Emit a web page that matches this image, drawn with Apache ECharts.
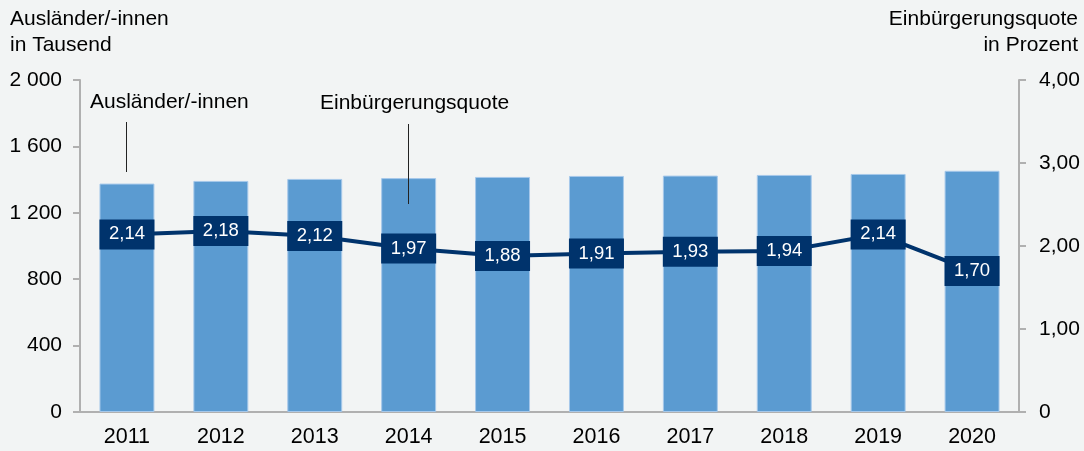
<!DOCTYPE html>
<html>
<head>
<meta charset="utf-8">
<script src="https://cdn.jsdelivr.net/npm/echarts@6/dist/echarts.min.js"></script>
<style>
html,body{margin:0;padding:0;background:#f2f4f4;}
#c{width:1084px;height:451px;}
</style>
</head>
<body>
<div id="c"></div>
<script>
const years = ['2011','2012','2013','2014','2015','2016','2017','2018','2019','2020'];
const auslaender = [1376, 1392, 1404, 1409, 1416, 1422, 1424, 1428, 1434, 1453];
const quote = [2.14, 2.18, 2.12, 1.97, 1.88, 1.91, 1.93, 1.94, 2.14, 1.70];
const leftTitle = ['Ausländer/-innen', 'in Tausend'];
const rightTitle = ['Einbürgerungsquote', 'in Prozent'];
const barAnnotation = 'Ausländer/-innen';
const lineAnnotation = 'Einbürgerungsquote';

const FONT = '"Liberation Sans", Arial, sans-serif';
const FS = 21;
const chart = echarts.init(document.getElementById('c'));
const fmtComma = v => v.toFixed(2).replace('.', ',');

chart.setOption({
  backgroundColor: '#f2f4f4',
  animation: false,
  textStyle: {fontFamily: FONT},
  grid: {left: 80, right: 65, top: 80, bottom: 39},
  xAxis: {
    type: 'category',
    data: years,
    axisLine: {lineStyle: {color: '#b0b0b0', width: 2}},
    axisTick: {show: false},
    axisLabel: {color: '#000', fontSize: 21.5, margin: 14, fontFamily: FONT}
  },
  yAxis: [{
    type: 'value', min: 0, max: 2000, interval: 400,
    axisLine: {show: true, lineStyle: {color: '#b0b0b0', width: 2}},
    axisTick: {show: true, length: 7, lineStyle: {color: '#b0b0b0', width: 2}},
    splitLine: {show: false},
    axisLabel: {color: '#000', fontSize: FS, margin: 18, fontFamily: FONT,
      formatter: v => String(v).replace(/\B(?=(\d{3})+(?!\d))/g, ' ')}
  }, {
    type: 'value', min: 0, max: 4, interval: 1, position: 'right',
    axisLine: {show: true, lineStyle: {color: '#b0b0b0', width: 2}},
    axisTick: {show: true, length: 7, lineStyle: {color: '#b0b0b0', width: 2}},
    splitLine: {show: false},
    axisLabel: {color: '#000', fontSize: FS, margin: 20, fontFamily: FONT,
      formatter: v => v === 0 ? '0' : fmtComma(v)}
  }],
  series: [{
    type: 'bar',
    data: auslaender,
    barWidth: '58.5%',
    itemStyle: {color: '#5b9bd1', borderColor: '#a6c8ea', borderWidth: 1},
    z: 2
  }, {
    type: 'line',
    yAxisIndex: 1,
    data: quote,
    symbol: 'circle',
    symbolSize: 1,
    showSymbol: true,
    itemStyle: {color: '#00336c'},
    lineStyle: {color: '#00336c', width: 4},
    z: 5,
    label: {
      show: true, position: 'inside',
      formatter: p => fmtComma(p.value),
      color: '#fff', fontSize: 18.5, fontFamily: FONT,
      backgroundColor: '#00336c',
      width: 55, height: 30, lineHeight: 30, align: 'center', verticalAlign: 'middle'
    }
  }],
  graphic: [
    {type: 'text', left: 10, top: 9, style: {text: leftTitle[0], fontSize: FS, fill: '#000', fontFamily: FONT}},
    {type: 'text', left: 10, top: 35, style: {text: leftTitle[1], fontSize: FS, fill: '#000', fontFamily: FONT}},
    {type: 'text', right: 6, top: 9, style: {text: rightTitle[0], fontSize: FS, fill: '#000', fontFamily: FONT}},
    {type: 'text', right: 6, top: 35, style: {text: rightTitle[1], fontSize: FS, fill: '#000', fontFamily: FONT}},
    {type: 'text', left: 90, top: 92, style: {text: barAnnotation, fontSize: FS, fill: '#000', fontFamily: FONT}},
    {type: 'text', left: 320, top: 93, style: {text: lineAnnotation, fontSize: FS, fill: '#000', fontFamily: FONT}},
    {type: 'line', shape: {x1: 126.5, y1: 122, x2: 126.5, y2: 172}, style: {stroke: '#222', lineWidth: 1}, z: 10},
    {type: 'line', shape: {x1: 408.5, y1: 124, x2: 408.5, y2: 204}, style: {stroke: '#222', lineWidth: 1}, z: 10}
  ]
});
</script>
</body>
</html>
